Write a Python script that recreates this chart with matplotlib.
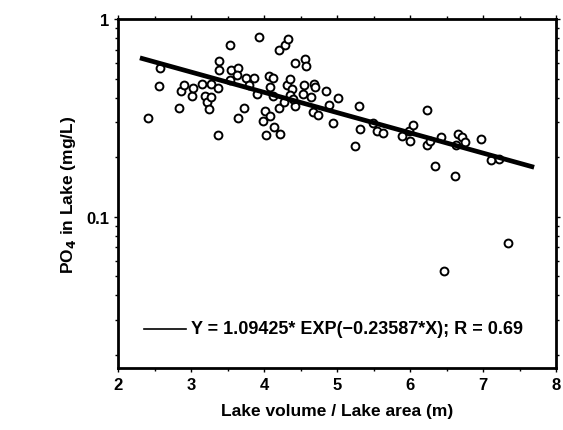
import numpy as np
import matplotlib.pyplot as plt
from matplotlib.ticker import FixedLocator, NullFormatter, LogLocator, MultipleLocator

# lake depth (volume / area, m) and lake PO4 (mg/L)
depth = [2.41, 2.56, 2.58, 2.84, 2.86, 2.91, 3.02, 3.03, 3.15, 3.19,
         3.22, 3.25, 3.28, 3.27, 3.37, 3.37, 3.39, 3.39, 3.53, 3.55,
         3.53, 3.65, 3.63, 3.65, 3.73, 3.76, 3.86, 3.80, 3.90, 3.93,
         3.99, 4.02, 4.08, 4.03, 4.07, 4.13, 4.08, 4.12, 4.14, 4.21,
         4.22, 4.21, 4.29, 4.33, 4.27, 4.31, 4.36, 4.39, 4.35, 4.43,
         4.43, 4.40, 4.56, 4.58, 4.55, 4.54, 4.68, 4.70, 4.65, 4.67,
         4.74, 4.85, 4.89, 4.95, 5.01, 5.24, 5.30, 5.32, 5.49, 5.55,
         5.63, 5.89, 5.98, 6.04, 6.00, 6.23, 6.23, 6.28, 6.34, 6.43,
         6.62, 6.66, 6.71, 6.75, 6.63, 6.97, 7.11, 7.22, 7.34, 6.46]
po4 = [0.317, 0.461, 0.562, 0.353, 0.433, 0.462, 0.410, 0.450, 0.468, 0.408,
       0.381, 0.352, 0.404, 0.468, 0.258, 0.448, 0.614, 0.553, 0.737, 0.555,
       0.490, 0.562, 0.519, 0.315, 0.356, 0.506, 0.506, 0.466, 0.420, 0.815,
       0.305, 0.341, 0.324, 0.260, 0.516, 0.504, 0.454, 0.406, 0.284, 0.701,
       0.262, 0.356, 0.743, 0.790, 0.381, 0.466, 0.500, 0.445, 0.411, 0.596,
       0.363, 0.396, 0.631, 0.580, 0.466, 0.420, 0.471, 0.454, 0.404, 0.339,
       0.326, 0.433, 0.366, 0.299, 0.399, 0.227, 0.362, 0.277, 0.299, 0.272,
       0.265, 0.255, 0.270, 0.290, 0.243, 0.345, 0.230, 0.243, 0.180, 0.253,
       0.160, 0.263, 0.253, 0.239, 0.230, 0.248, 0.193, 0.197, 0.074, 0.053]

# fitted curve Y = a * exp(b * X)
fit_a = 1.09425
fit_b = -0.23587
fit_x = [2.3, 7.7]

plt.rcParams['font.family'] = ['Liberation Sans', 'DejaVu Sans']
plt.rcParams['font.weight'] = 'bold'
plt.rcParams['axes.labelweight'] = 'bold'
plt.rcParams['mathtext.default'] = 'bf'

fig = plt.figure(figsize=(5.63, 4.31), dpi=100)
ax = fig.add_axes([0.2096, 0.1439, 0.778, 0.8097])

ax.scatter(depth, po4, s=32, facecolors='white', edgecolors='black',
           linewidths=1.4, zorder=3)
xx = np.linspace(fit_x[0], fit_x[1], 50)
ax.plot(xx, fit_a * np.exp(fit_b * xx), color='black', lw=3.4, zorder=4,
        solid_capstyle='butt')

ax.set_yscale('log')
ax.set_xlim(2, 8)
ax.set_ylim(0.0172, 1)
ax.set_xticks(range(2, 9))
ax.xaxis.set_minor_locator(MultipleLocator(0.5))
ax.yaxis.set_major_locator(FixedLocator([0.1, 1]))
ax.yaxis.set_minor_locator(LogLocator(subs=np.arange(2, 10)))
ax.yaxis.set_minor_formatter(NullFormatter())
ax.set_yticklabels(['0.1', '1'])

ax.tick_params(which='both', labelsize=12, width=1, length=3, direction='out',
               top=True, right=True)
ax.tick_params(which='minor', length=2, labelbottom=False)
for s in ax.spines.values():
    s.set_linewidth(2)

ax.set_xlabel('Lake volume / Lake area (m)', fontsize=12.5, labelpad=8)
ax.set_ylabel('PO$_4$ in Lake (mg/L)', fontsize=12.5, labelpad=6)

# legend-like label for the fit line
ax.plot([2.35, 2.93], [0.0271, 0.0271], color='black', lw=1.2)
ax.text(3.0, 0.0271, 'Y = 1.09425* EXP(\u22120.23587*X); R = 0.69',
        fontsize=13, va='center', ha='left')

fig.savefig('out.png', dpi=100)
